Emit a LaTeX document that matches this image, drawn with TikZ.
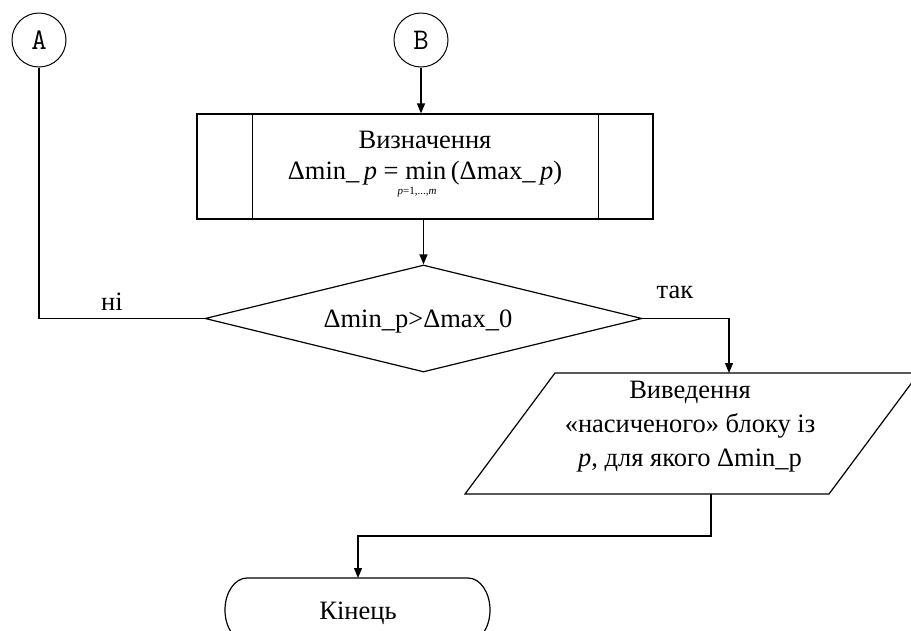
\documentclass[tikz,border=0pt]{standalone}
\usepackage{fontspec}
\setmainfont{Liberation Serif}
\usetikzlibrary{arrows.meta,shapes.geometric}
\begin{document}
\begin{tikzpicture}[x=1pt,y=-1pt,
  every node/.style={font=\fontsize{26.5}{34}\selectfont, inner sep=0pt},
  conn/.style={draw, line width=1.2pt},
  arr/.style={conn, -{Triangle[length=10pt,width=8pt]}},
  conncirc/.style={circle, draw, line width=1pt, minimum size=54pt, font=\ttfamily\fontsize{30}{32}\selectfont},
  txt/.style={anchor=base, align=center}]
\clip (0,0) rectangle (911,630);
% connectors
\node[conncirc] (A) at (39,40) {A};
\node[conncirc] (B) at (421,40) {B};
% process block
\node[draw, line width=1.2pt, minimum width=456pt, minimum height=105pt] (proc) at (425,166.5) {};
\draw[line width=1.2pt] ([xshift=56pt]proc.north west) -- ([xshift=56pt]proc.south west);
\draw[line width=1.2pt] ([xshift=-55pt]proc.north east) -- ([xshift=-55pt]proc.south east);
\node[txt] (p1) at (425,148) {Визначення};
\node[txt] (p2) at (425,179) {Δmin\_\,\textit{p} = min\,(Δmax\_\,\textit{p})};
\node[anchor=north, font=\fontsize{11}{11}\selectfont] (psub) at (417,187.5) {\textit{p}=1,...,\textit{m}};
% decision
\node[diamond, draw, line width=1.2pt, minimum width=437pt, minimum height=107pt, aspect=4] (dec) at (423.5,318.5) {};
\node[txt] (dect) at (418,327) {Δmin\_p>Δmax\_0};
\node[txt] (no) at (112,310) {ні};
\node[txt] (yes) at (675,298) {так};
% output block
\draw[line width=1.2pt] (465,494) -- (555,373) -- (919,373) -- (829,494) -- cycle;
\node[txt] (o1) at (690,398) {Виведення};
\node[txt] (o2) at (690,432) {«насиченого» блоку із};
\node[txt] (o3) at (690,466) {\textit{p}, для якого Δmin\_p};
\coordinate (outtop) at (729,373);
\coordinate (outbot) at (711,494);
% terminal
\draw[line width=1.2pt] (247,578) -- (468,578) arc[start angle=-90, end angle=90, x radius=22, y radius=32]
   -- (247,642) arc[start angle=90, end angle=270, x radius=22, y radius=32];
\node[txt] (endt) at (358,619) {Кінець};
\coordinate (endtop) at (358,578);
% connections
\draw[arr] (B.south) -- (proc.north -| B.south);
\draw[arr] (proc.south -| dec.north) -- (dec.north);
\draw[conn] (A.south) |- (dec.west);
\draw[arr] (dec.east) -| (outtop);
\draw[arr] (outbot) -- ++(0,42) -| (endtop);
\end{tikzpicture}
\end{document}
